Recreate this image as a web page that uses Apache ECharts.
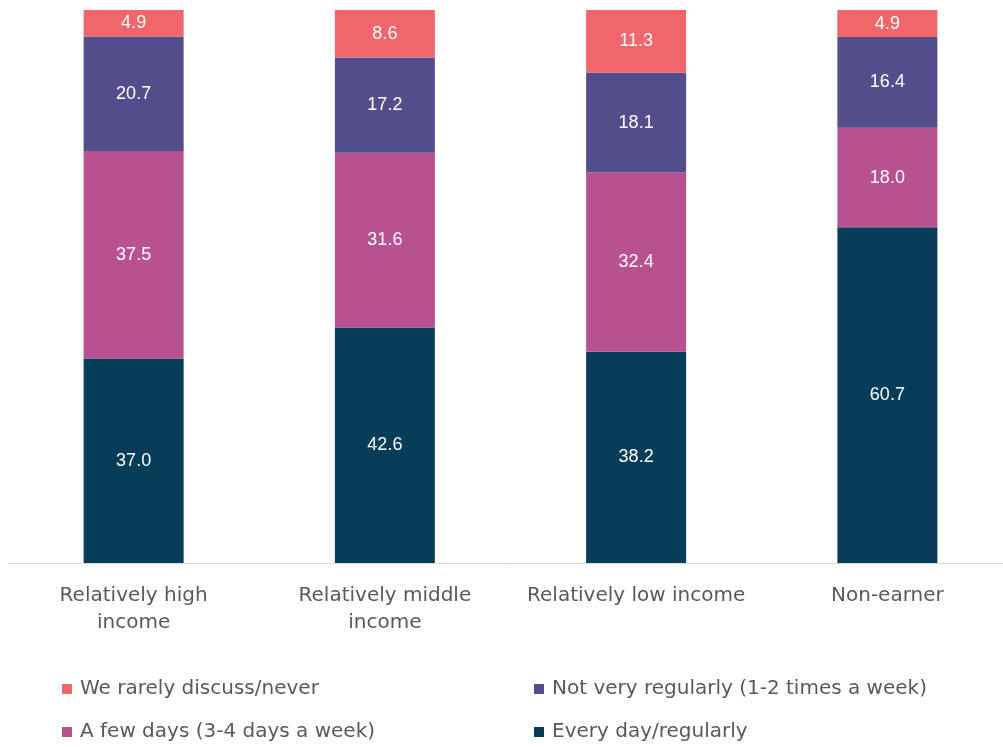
<!DOCTYPE html>
<html>
<head>
<meta charset="utf-8">
<script src="https://cdn.jsdelivr.net/npm/echarts@6/dist/echarts.min.js"></script>
<style>html,body{margin:0;padding:0;background:#fff;overflow:hidden;width:1003px;height:747px}#c{width:1013px;height:747px}</style>
</head>
<body>
<div id="c"></div>
<script>
const categories = ["Relatively high\nincome", "Relatively middle\nincome", "Relatively low income", "Non-earner"];
const seriesNames = ["Every day/regularly", "A few days (3-4 days a week)", "Not very regularly (1-2 times a week)", "We rarely discuss/never"];
const everyDay = [37.0, 42.6, 38.2, 60.7];
const fewDays = [37.5, 31.6, 32.4, 18.0];
const notRegular = [20.7, 17.2, 18.1, 16.4];
const rarely = [4.9, 8.6, 11.3, 4.9];
const colors = ["#083D5A", "#B85190", "#534D8B", "#F1666A"];
const values = [everyDay, fewDays, notRegular, rarely];

const chart = echarts.init(document.getElementById('c'));
const labelFont = 'DejaVu Sans';
const legendPos = {
  "We rarely discuss/never": {left: 62, top: 679},
  "Not very regularly (1-2 times a week)": {left: 534, top: 679},
  "A few days (3-4 days a week)": {left: 62, top: 722},
  "Every day/regularly": {left: 534, top: 722}
};
const legends = Object.keys(legendPos).map(n => ({
  data: [n], left: legendPos[n].left, top: legendPos[n].top, padding: 0,
  icon: 'rect', itemWidth: 10, itemHeight: 10, itemGap: 0, selectedMode: false,
  textStyle: {color: '#595959', fontSize: 20, fontFamily: labelFont, padding: [0, 0, 0, 3]}
}));
chart.setOption({
  animation: false,
  color: colors,
  legend: legends,
  grid: {left: 8, top: 10, right: 0, bottom: 184, containLabel: false},
  xAxis: {
    type: 'category', data: categories,
    axisLine: {lineStyle: {color: '#D9D9D9', width: 1}},
    axisTick: {show: false},
    axisLabel: {interval: 0, color: '#595959', fontSize: 20, fontFamily: labelFont, margin: 19, lineHeight: 27}
  },
  yAxis: {type: 'value', min: 0, max: 100, show: false, splitLine: {show: false}},
  series: values.map((v, i) => ({
    name: seriesNames[i], type: 'bar', stack: 'a', data: v, barWidth: 100,
    itemStyle: {color: colors[i]},
    label: {show: true, position: 'inside', color: '#fff', fontSize: 18, fontFamily: 'Liberation Sans',
      formatter: p => p.value.toFixed(1)}
  }))
});
</script>
</body>
</html>
